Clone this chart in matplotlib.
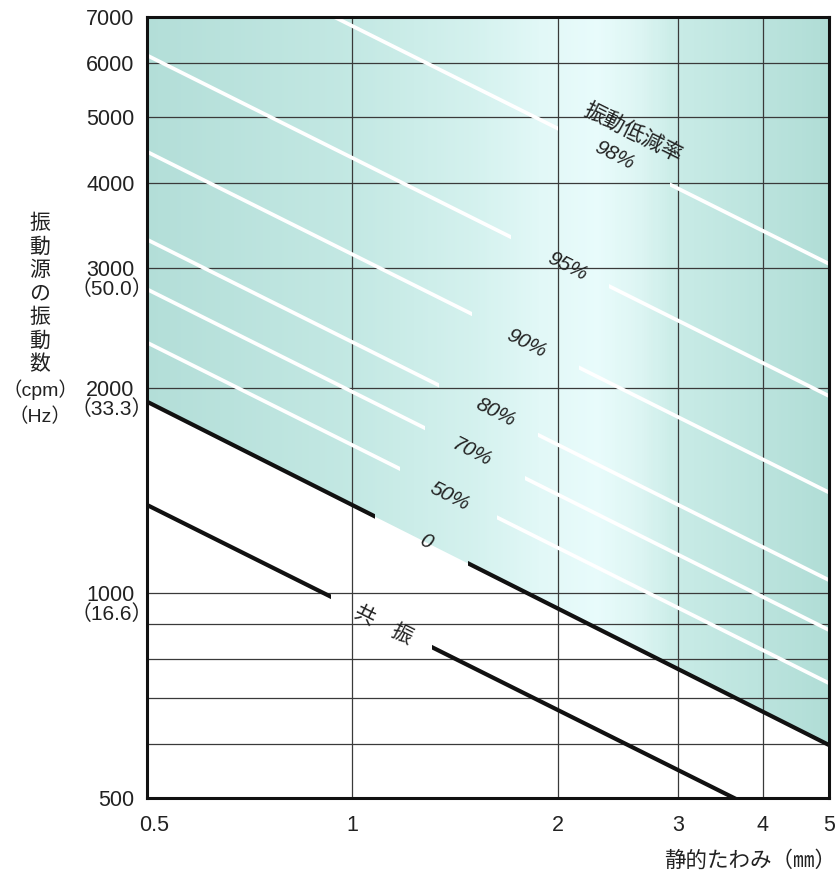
import numpy as np
import matplotlib
matplotlib.use('Agg')
import matplotlib.pyplot as plt
import matplotlib.transforms as mtransforms
from matplotlib.path import Path
from matplotlib.colors import LinearSegmentedColormap

# static deflection (mm) at the two ends of the x axis
x_ends = [0.5, 5.0]

# vibration reduction lines: source frequency (cpm) read at x=0.5 and x=5
rate_labels = ['98%', '95%', '90%', '80%', '70%', '50%']
rate_y_left = [9600, 6150, 4440, 3300, 2790, 2330]
rate_y_right = [3040, 1945, 1404, 1044, 882, 737]
# visible pieces of each white line (deflection ranges); the gaps hold the labels
rate_pieces = [
    [(0.5, 2.0), (2.92, 5.0)],
    [(0.5, 1.71), (2.38, 5.0)],
    [(0.5, 1.50), (2.15, 5.0)],
    [(0.5, 1.34), (1.87, 5.0)],
    [(0.5, 1.28), (1.79, 5.0)],
    [(0.5, 1.175), (1.63, 5.0)],
]
rate_label_pos = [(2.42, 4380), (2.07, 3013), (1.80, 2325), (1.62, 1842), (1.50, 1609), (1.39, 1386)]

# 0 % line (border of the isolation zone) and resonance line
zero_y = [1908, 598]
zero_pieces = [(0.5, 1.08), (1.48, 5.0)]
res_y = [1346, 426]
res_pieces = [(0.5, 0.93), (1.31, 5.0)]

yticks = [500, 1000, 2000, 3000, 4000, 5000, 6000, 7000]
hz_ticks = [1000, 2000, 3000]
hz_labels = ['（16.6）', '（33.3）', '（50.0）']
minor_grid = [600, 700, 800, 900]
xticks = [0.5, 1, 2, 3, 4, 5]
xtick_labels = ['0.5', '1', '2', '3', '4', '5']

NUM_FONT = ['Liberation Sans', 'Noto Sans CJK JP', 'DejaVu Sans']
JP_FONT = ['Noto Sans CJK JP', 'DejaVu Sans']
INK = '#222222'
ANGLE = -26.6

fig = plt.figure(figsize=(8.36, 8.72), dpi=100)
ax = fig.add_axes([147 / 836, 1 - 798 / 872, (829 - 147) / 836, (798 - 17) / 872])
ax.set_xscale('log')
ax.set_yscale('log')
ax.set_xlim(0.5, 5)
ax.set_ylim(500, 7000)

# shaded isolation zone with a light band around 2-2.6 mm
cmap = LinearSegmentedColormap.from_list('zone', [
    (0.0, '#b3ded8'), (0.30, '#c3e8e3'), (0.48, '#d4f1ee'), (0.58, '#e2f8f7'),
    (0.66, '#e8fbfb'), (0.72, '#ddf5f3'), (0.78, '#c8ebe6'), (1.0, '#b0ddd6')])
xs = np.logspace(np.log10(0.5), np.log10(5), 300)
ys = np.array([500, 7000])
t = np.log10(xs[:-1] / 0.5)[None, :]
mesh = ax.pcolormesh(xs, ys, t, cmap=cmap, vmin=0, vmax=1, shading='flat', zorder=0)
zone = Path([(x_ends[0], zero_y[0]), (x_ends[1], zero_y[1]), (x_ends[1], 7000),
             (x_ends[0], 7000), (x_ends[0], zero_y[0])], closed=True)
mesh.set_clip_path(zone, ax.transData)

# grid
for v in [1, 2, 3, 4]:
    ax.axvline(v, color='#3a3a3a', lw=0.9, zorder=1)
for v in yticks[1:-1] + minor_grid:
    ax.axhline(v, color='#3a3a3a', lw=0.9, zorder=1)


def pieces_path(pieces):
    rects = [Path([(a, 100), (b, 100), (b, 20000), (a, 20000), (a, 100)], closed=True)
             for a, b in pieces]
    return Path.make_compound_path(*rects)


for yl, yr, pieces in zip(rate_y_left, rate_y_right, rate_pieces):
    ln, = ax.plot(x_ends, [yl, yr], color='white', lw=2.7, solid_capstyle='butt', zorder=2)
    ln.set_clip_path(pieces_path(pieces), ax.transData)

for yv, pieces in [(zero_y, zero_pieces), (res_y, res_pieces)]:
    ln, = ax.plot(x_ends, yv, color='#111111', lw=3.0, solid_capstyle='butt', zorder=3)
    ln.set_clip_path(pieces_path(pieces), ax.transData)

# line labels
for lab, (lx, ly) in zip(rate_labels, rate_label_pos):
    ax.text(lx, ly, lab, rotation=ANGLE, rotation_mode='anchor', ha='center', va='center',
            fontsize=15, style='italic', family=NUM_FONT, color=INK, zorder=4)
ax.text(2.58, 4730, '振動低減率', rotation=ANGLE, rotation_mode='anchor', ha='center',
        va='center', fontsize=15.5, family=JP_FONT, color=INK, zorder=4)
ax.text(1.28, 1188, '0', rotation=ANGLE, rotation_mode='anchor', ha='center', va='center',
        fontsize=15, style='italic', family=NUM_FONT, color=INK, zorder=4)
ax.text(1.11, 897, '共　振', rotation=ANGLE, rotation_mode='anchor', ha='center',
        va='center', fontsize=15, family=JP_FONT, color=INK, zorder=4)

# axes, ticks
for s in ax.spines.values():
    s.set_linewidth(2.2)
    s.set_color('#111111')
    s.set_zorder(5)
ax.minorticks_off()
ax.set_yticks(yticks)
ax.set_yticklabels([str(v) for v in yticks], family=NUM_FONT, fontsize=15.5, color=INK)
ax.set_xticks(xticks)
ax.set_xticklabels(xtick_labels, family=NUM_FONT, fontsize=15.5, color=INK)
ax.tick_params(axis='both', length=0)
ax.tick_params(axis='y', pad=9)
ax.tick_params(axis='x', pad=12)
# first x label sits a little right of the axis corner in the original
first = ax.get_xticklabels()[0]
first.set_transform(first.get_transform() + mtransforms.ScaledTranslation(0.07, 0, fig.dpi_scale_trans))

for v, lab in zip(hz_ticks, hz_labels):
    ax.annotate(lab, xy=(0, v), xycoords=('axes fraction', 'data'), xytext=(6, -21),
                textcoords='offset pixels', ha='right', va='center', fontsize=15,
                family=NUM_FONT, color=INK)

# axis titles
y_title = '振動源の振動数'
for i, ch in enumerate(y_title):
    fig.text(40 / 836, 1 - (223 + 23.5 * i) / 872, ch, ha='center', va='center',
             fontsize=15, family=JP_FONT, color=INK)
fig.text(2 / 836, 1 - 390 / 872, '（cpm）', ha='left', va='center', fontsize=14,
         family=NUM_FONT, color=INK)
fig.text(40 / 836, 1 - 417 / 872, '（Hz）', ha='center', va='center', fontsize=14,
         family=NUM_FONT, color=INK)
fig.text(836 / 836, 1 - 861 / 872, '静的たわみ（㎜）', ha='right', va='center', fontsize=15.5,
         family=JP_FONT, color=INK)

fig.savefig('out.png', dpi=100)
plt.close(fig)
